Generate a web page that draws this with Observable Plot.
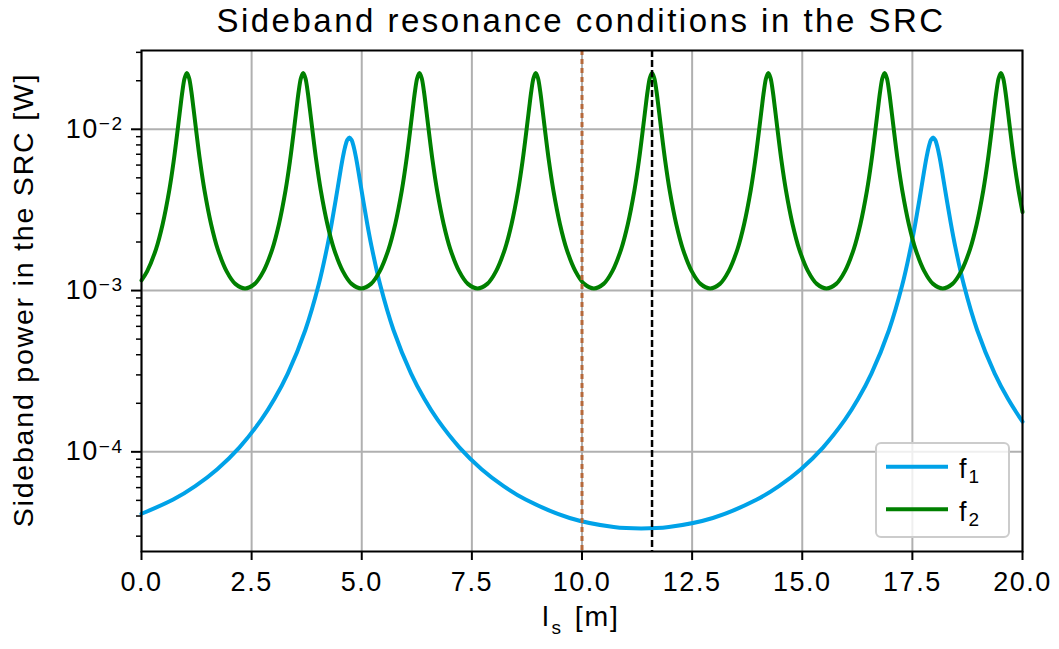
<!DOCTYPE html>
<html><head><meta charset="utf-8">
<script src="https://cdn.jsdelivr.net/npm/d3@7"></script>
<script src="https://cdn.jsdelivr.net/npm/@observablehq/plot@0.6"></script>
<style>
body{margin:0;background:#fff;}
#chart{width:1059px;height:649px;}
</style></head><body><div id="chart"></div>
<script>
// ---- data ----
const titleText = "Sideband resonance conditions in the SRC";
const yLabelText = "Sideband power in the SRC [W]";
const xLabelBase = "l", xLabelSub = "s", xLabelRest = "[m]";
const legendBase = ["f", "f"];
const legendSub = ["1", "2"];

const f1X = [0, 0.72, 1.22, 1.72, 2.22, 2.72, 3.02, 3.32, 3.72, 4.02, 4.22, 4.32, 4.42, 4.52, 4.57, 4.62, 4.67,
  4.72, 4.77, 4.82, 4.87, 4.92, 5.02, 5.12, 5.22, 5.42, 5.72, 6.12, 6.42, 6.72, 7.22, 7.72, 8.22, 8.72, 9.72, 10.72,
  11.345, 11.97, 12.97, 13.97, 14.47, 14.97, 15.47, 15.97, 16.27, 16.57, 16.97, 17.27, 17.47, 17.57, 17.67, 17.77,
  17.82, 17.87, 17.92, 17.97, 18.02, 18.07, 18.12, 18.17, 18.27, 18.37, 18.47, 18.67, 18.97, 19.37, 19.67, 19.97, 20.0];
const f1Y = [4.13e-5, 5.06e-5, 6.13e-5, 7.81e-5, 1.063e-4, 1.582e-4, 2.131e-4, 3.054e-4, 5.697e-4, 1.081e-3, 1.891e-3,
  2.636e-3, 3.806e-3, 5.578e-3, 6.666e-3, 7.746e-3, 8.58e-3,
  8.9e-3, 8.58e-3, 7.746e-3, 6.666e-3, 5.578e-3, 3.806e-3, 2.636e-3, 1.891e-3, 1.081e-3, 5.697e-4, 3.054e-4, 2.131e-4,
  1.582e-4, 1.063e-4, 7.81e-5, 6.13e-5, 5.06e-5, 3.89e-5, 3.42e-5,
  3.35e-5, 3.42e-5, 3.89e-5, 5.06e-5, 6.13e-5, 7.81e-5, 1.063e-4, 1.582e-4, 2.131e-4, 3.054e-4, 5.697e-4, 1.081e-3,
  1.891e-3, 2.636e-3, 3.806e-3, 5.578e-3,
  6.666e-3, 7.746e-3, 8.58e-3, 8.9e-3, 8.58e-3, 7.746e-3, 6.666e-3, 5.578e-3, 3.806e-3, 2.636e-3, 1.891e-3, 1.081e-3,
  5.697e-4, 3.054e-4, 2.131e-4, 1.582e-4, 1.54e-4];

const f2X = [
  0, 0.13, 0.33, 0.48, 0.63, 0.73, 0.83, 0.88, 0.93, 0.98, 1.03, 1.08, 1.13, 1.18, 1.23, 1.33, 1.43, 1.58, 1.73, 1.93, 2.13, 2.35,
  2.57, 2.77, 2.97, 3.12, 3.27, 3.37, 3.47, 3.52, 3.57, 3.62, 3.67, 3.72, 3.77, 3.82, 3.87, 3.97, 4.07, 4.22, 4.37, 4.57, 4.77, 4.99,
  5.21, 5.41, 5.61, 5.76, 5.91, 6.01, 6.11, 6.16, 6.21, 6.26, 6.31, 6.36, 6.41, 6.46, 6.51, 6.61, 6.71, 6.86, 7.01, 7.21, 7.41, 7.63,
  7.85, 8.05, 8.25, 8.40, 8.55, 8.65, 8.75, 8.80, 8.85, 8.90, 8.95, 9.00, 9.05, 9.10, 9.15, 9.25, 9.35, 9.50, 9.65, 9.85, 10.05, 10.27,
  10.49, 10.69, 10.89, 11.04, 11.19, 11.29, 11.39, 11.44, 11.49, 11.54, 11.59, 11.64, 11.69, 11.74, 11.79, 11.89, 11.99, 12.14, 12.29, 12.49, 12.69, 12.91,
  13.13, 13.33, 13.53, 13.68, 13.83, 13.93, 14.03, 14.08, 14.13, 14.18, 14.23, 14.28, 14.33, 14.38, 14.43, 14.53, 14.63, 14.78, 14.93, 15.13, 15.33, 15.55,
  15.77, 15.97, 16.17, 16.32, 16.47, 16.57, 16.67, 16.72, 16.77, 16.82, 16.87, 16.92, 16.97, 17.02, 17.07, 17.17, 17.27, 17.42, 17.57, 17.77, 17.97, 18.19,
  18.41, 18.61, 18.81, 18.96, 19.11, 19.21, 19.31, 19.36, 19.41, 19.46, 19.51, 19.56, 19.61, 19.66, 19.71, 19.81, 19.91, 20.0];
const f2Y = [
  0.001156, 0.00132, 0.00181, 0.00258, 0.00418, 0.00633, 0.0104, 0.0135, 0.0173, 0.0208, 0.0223, 0.0208, 0.0173, 0.0135, 0.0104, 0.00633, 0.00418, 0.00258, 0.00181, 0.00132, 0.00110, 0.00103,
  0.00110, 0.00132, 0.00181, 0.00258, 0.00418, 0.00633, 0.0104, 0.0135, 0.0173, 0.0208, 0.0223, 0.0208, 0.0173, 0.0135, 0.0104, 0.00633, 0.00418, 0.00258, 0.00181, 0.00132, 0.00110, 0.00103,
  0.00110, 0.00132, 0.00181, 0.00258, 0.00418, 0.00633, 0.0104, 0.0135, 0.0173, 0.0208, 0.0223, 0.0208, 0.0173, 0.0135, 0.0104, 0.00633, 0.00418, 0.00258, 0.00181, 0.00132, 0.00110, 0.00103,
  0.00110, 0.00132, 0.00181, 0.00258, 0.00418, 0.00633, 0.0104, 0.0135, 0.0173, 0.0208, 0.0223, 0.0208, 0.0173, 0.0135, 0.0104, 0.00633, 0.00418, 0.00258, 0.00181, 0.00132, 0.00110, 0.00103,
  0.00110, 0.00132, 0.00181, 0.00258, 0.00418, 0.00633, 0.0104, 0.0135, 0.0173, 0.0208, 0.0223, 0.0208, 0.0173, 0.0135, 0.0104, 0.00633, 0.00418, 0.00258, 0.00181, 0.00132, 0.00110, 0.00103,
  0.00110, 0.00132, 0.00181, 0.00258, 0.00418, 0.00633, 0.0104, 0.0135, 0.0173, 0.0208, 0.0223, 0.0208, 0.0173, 0.0135, 0.0104, 0.00633, 0.00418, 0.00258, 0.00181, 0.00132, 0.00110, 0.00103,
  0.00110, 0.00132, 0.00181, 0.00258, 0.00418, 0.00633, 0.0104, 0.0135, 0.0173, 0.0208, 0.0223, 0.0208, 0.0173, 0.0135, 0.0104, 0.00633, 0.00418, 0.00258, 0.00181, 0.00132, 0.00110, 0.00103,
  0.00110, 0.00132, 0.00181, 0.00258, 0.00418, 0.00633, 0.0104, 0.0135, 0.0173, 0.0208, 0.0223, 0.0208, 0.0173, 0.0135, 0.0104, 0.00633, 0.00418, 0.00307];

const markerX = [10.0, 11.59];
const xTicks = [0, 2.5, 5, 7.5, 10, 12.5, 15, 17.5, 20];
const yMajorTicks = [1e-4, 1e-3, 1e-2];
const yMinorTicks = [3e-5, 4e-5, 5e-5, 6e-5, 7e-5, 8e-5, 9e-5, 2e-4, 3e-4, 4e-4, 5e-4, 6e-4, 7e-4, 8e-4, 9e-4,
  2e-3, 3e-3, 4e-3, 5e-3, 6e-3, 7e-3, 8e-3, 9e-3, 2e-2, 3e-2];
const xDomain = [0, 20];
const yDomain = [2.41e-5, 0.0308];

// ---- styles ----
const C1 = "#00a2e8", C2 = "#008000", CB = "#b5683a", GRID = "#b0b0b0";
const FONT = "'Liberation Sans', Arial, sans-serif";

const f1 = f1X.map((x, i) => ({x, y: f1Y[i]}));
const f2 = f2X.map((x, i) => ({x, y: f2Y[i]}));

const svg = Plot.plot({
  width: 1059, height: 649,
  marginLeft: 141, marginRight: 37, marginTop: 50, marginBottom: 98,
  style: {fontFamily: FONT, fontSize: "27px", color: "black", background: "white", overflow: "visible"},
  x: {domain: xDomain},
  y: {type: "log", domain: yDomain},
  marks: [
    Plot.gridX(xTicks, {stroke: GRID, strokeOpacity: 1, strokeWidth: 2}),
    Plot.gridY(yMajorTicks, {stroke: GRID, strokeOpacity: 1, strokeWidth: 2}),
    Plot.line(f1, {x: "x", y: "y", stroke: C1, strokeWidth: 4, curve: "catmull-rom"}),
    Plot.line(f2, {x: "x", y: "y", stroke: C2, strokeWidth: 4, curve: "catmull-rom"}),
    Plot.ruleX([markerX[0]], {stroke: CB, strokeWidth: 3, strokeDasharray: "5,4"}),
    Plot.ruleX([markerX[1]], {stroke: "black", strokeWidth: 2.5, strokeDasharray: "7,3"}),
    Plot.axisX(xTicks, {tickSize: 9, tickPadding: 11, strokeWidth: 2, tickFormat: d => d.toFixed(1), label: null}),
    Plot.axisY(yMajorTicks, {tickSize: 10, tickPadding: 8, strokeWidth: 2, tickFormat: d => String(Math.round(Math.log10(d))), label: null}),
    Plot.axisY(yMinorTicks, {tickSize: 5, strokeWidth: 1.5, tickFormat: () => "", label: null}),
    Plot.frame({stroke: "black", strokeWidth: 2})
  ]
});

const s = d3.select(svg);
s.selectAll('g[aria-label="x-axis tick label"] text').attr("letter-spacing", "1.5px");
s.selectAll('g[aria-label="y-axis tick label"] text').each(function() {
  const t = d3.select(this);
  const e = t.text();
  if (!e) return;
  t.text("10").attr("letter-spacing", "1.5px");
  t.append("tspan").attr("dy", "-0.42em").attr("font-size", "19px").text(e.replace("-", "\u2212"));
});

// title
s.append("text").attr("x", 581).attr("y", 32).attr("text-anchor", "middle")
  .attr("font-size", 33).attr("letter-spacing", "2.5px").attr("fill", "black").text(titleText);
// y label
s.append("text").attr("transform", "translate(33,300) rotate(-90)").attr("text-anchor", "middle")
  .attr("font-size", 28.5).attr("letter-spacing", "1.8px").attr("fill", "black").text(yLabelText);
// x label
const xl = s.append("text").attr("x", 581).attr("y", 626).attr("text-anchor", "middle")
  .attr("font-size", 28.5).attr("letter-spacing", "1.8px").attr("fill", "black");
xl.append("tspan").text(xLabelBase);
xl.append("tspan").attr("dy", 8).attr("dx", 1).attr("font-size", 19).text(xLabelSub);
xl.append("tspan").attr("dy", -8).attr("dx", 12).text(xLabelRest);

// legend
const lg = s.append("g");
lg.append("rect").attr("x", 876).attr("y", 443).attr("width", 133).attr("height", 94).attr("rx", 5)
  .attr("fill", "white").attr("fill-opacity", 0.8).attr("stroke", "#cccccc").attr("stroke-width", 2);
const lcol = [C1, C2], ly = [466.7, 509.3];
for (let i = 0; i < 2; i++) {
  lg.append("line").attr("x1", 886).attr("x2", 948).attr("y1", ly[i]).attr("y2", ly[i])
    .attr("stroke", lcol[i]).attr("stroke-width", 4);
  const t = lg.append("text").attr("x", 969).attr("y", ly[i] + 11.5).attr("font-size", 27).attr("fill", "black");
  t.append("tspan").text(legendBase[i]);
  t.append("tspan").attr("dy", 5).attr("dx", 2).attr("font-size", 19).text(legendSub[i]);
}

document.getElementById("chart").appendChild(svg);
</script></body></html>
